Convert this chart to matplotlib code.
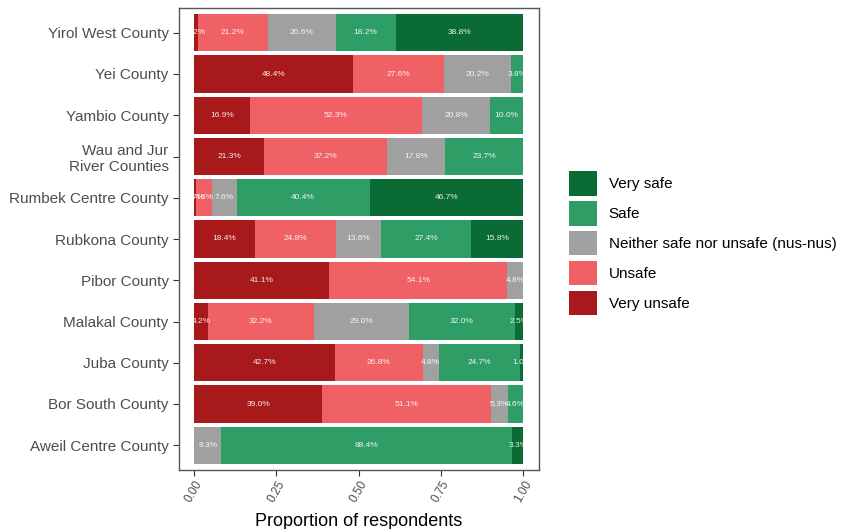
import matplotlib
matplotlib.use("Agg")
import matplotlib.pyplot as plt
from matplotlib.patches import Patch
import numpy as np

plt.rcParams['font.family'] = ['Liberation Sans', 'DejaVu Sans']

counties = ["Aweil Centre County", "Bor South County", "Juba County", "Malakal County",
            "Pibor County", "Rubkona County", "Rumbek Centre County",
            "Wau and Jur\nRiver Counties", "Yambio County", "Yei County", "Yirol West County"]

very_unsafe = [0.0, 39.0, 42.7, 4.2, 41.1, 18.4, 0.7, 21.3, 16.9, 48.4, 1.2]
unsafe      = [0.0, 51.1, 26.8, 32.2, 54.1, 24.8, 4.6, 37.2, 52.3, 27.6, 21.2]
neither     = [8.3, 5.3, 4.8, 29.0, 4.8, 13.6, 7.6, 17.8, 20.8, 20.2, 20.6]
safe        = [88.4, 4.6, 24.7, 32.0, 0.0, 27.4, 40.4, 23.7, 10.0, 3.8, 18.2]
very_safe   = [3.3, 0.0, 1.0, 2.5, 0.0, 15.8, 46.7, 0.0, 0.0, 0.0, 38.8]

levels = ["Very unsafe", "Unsafe", "Neither safe nor unsafe (nus-nus)", "Safe", "Very safe"]
colors = ["#a8191c", "#f06166", "#a0a0a0", "#2e9e66", "#0b6b35"]
series = [very_unsafe, unsafe, neither, safe, very_safe]

xticks = [0.0, 0.25, 0.5, 0.75, 1.0]
xticklabels = ["0.00", "0.25", "0.50", "0.75", "1.00"]

fig = plt.figure(figsize=(8.45, 5.29), dpi=100)
ax = fig.add_axes([179/845, 1-470/529, 360/845, 462/529])

y = np.arange(len(counties))
left = np.zeros(len(counties))
for vals, col in zip(series, colors):
    v = np.array(vals) / 100.0
    ax.barh(y, v, left=left, height=0.9, color=col, edgecolor='none')
    for yi, (l, w, raw) in enumerate(zip(left, v, vals)):
        if raw > 0:
            ax.text(l + w/2, yi, f"{raw:.1f}%", ha='center', va='center',
                    fontsize=6, color='white', alpha=0.9)
    left += v

ax.set_xlim(-0.046, 1.048)
ax.set_ylim(-0.6, len(counties) - 0.4)
ax.set_yticks(y)
ax.set_yticklabels(counties, fontsize=11, color='#4d4d4d', ha='right')
ax.set_xticks(xticks)
ax.set_xticklabels(xticklabels, rotation=60, ha='center', va='top',
                   fontsize=8.5, color='#4d4d4d')
ax.tick_params(axis='both', length=4, color='#333333', width=0.8)
ax.tick_params(axis='x', pad=2)
for sp in ax.spines.values():
    sp.set_color('#555555')
    sp.set_linewidth(1.0)
ax.set_xlabel("Proportion of respondents", fontsize=13, color='black', labelpad=6)

handles = [Patch(facecolor=c, edgecolor='none') for c in colors[::-1]]
labels = levels[::-1]
fig.legend(handles, labels, loc='upper left', bbox_to_anchor=(569/845, 1-171/529),
           frameon=False, fontsize=11, handlelength=1.8, handleheight=2.1,
           labelspacing=0.35, handletextpad=0.8, borderpad=0, borderaxespad=0)

fig.savefig("out.png", dpi=100)
